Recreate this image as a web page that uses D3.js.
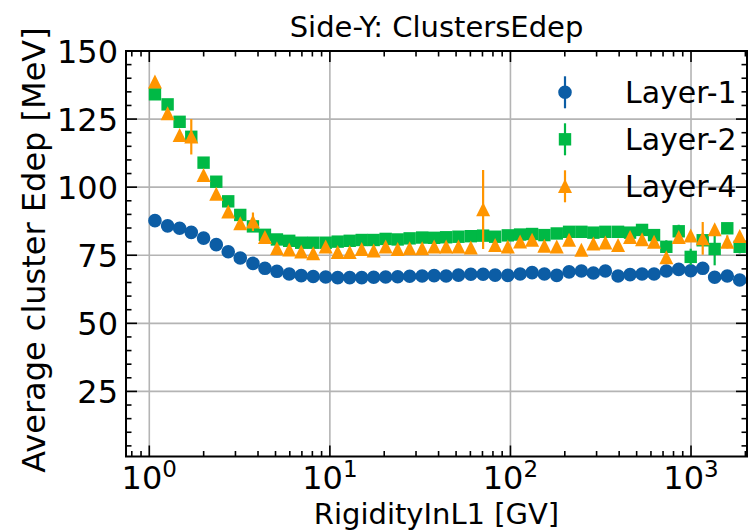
<!DOCTYPE html>
<html>
<head>
<meta charset="utf-8">
<script src="https://cdn.jsdelivr.net/npm/d3@7"></script>
<style>
  body { margin: 0; background: #fff; }
  svg text { font-family: "DejaVu Sans", sans-serif; fill: #000; }
</style>
</head>
<body>
<div id="chart"></div>
<script>
// Rigidity bin centres (GV)
const rigidity = [1.075, 1.263, 1.472, 1.708, 1.998, 2.349, 2.736, 3.189, 3.750, 4.369,
  5.091, 5.955, 6.940, 8.086, 9.482, 11.05, 12.88, 15.01, 17.48, 20.37,
  23.74, 27.66, 32.43, 37.79, 44.04, 51.52, 60.33, 70.58, 82.26, 96.69,
  113.1, 131.8, 154.2, 180.5, 211.2, 247.1, 287.9, 335.5, 394.4, 459.6,
  535.6, 624.2, 729.9, 855.0, 996.1, 1161, 1352, 1588, 1860];

const layer1 = [87.7, 85.8, 84.9, 83.4, 81.3, 78.9, 76.3, 74.0, 72.0, 70.2,
  69.1, 68.1, 67.5, 67.2, 67.0, 66.8, 66.8, 66.8, 66.9, 67.0,
  67.1, 67.3, 67.4, 67.5, 67.4, 67.7, 68.0, 68.0, 67.7, 67.6,
  68.1, 68.6, 68.1, 67.6, 68.9, 69.2, 68.5, 69.2, 67.4, 67.9,
  68.1, 68.1, 69.2, 69.8, 69.3, 70.2, 66.9, 67.4, 65.9];
const layer1Err = layer1.map(() => 0.2);

const layer2 = [134.1, 130.4, 124.0, 118.5, 109.0, 102.0, 94.8, 89.8, 85.6, 82.5,
  80.8, 80.3, 79.6, 79.6, 79.6, 80.0, 80.3, 80.6, 80.6, 81.0,
  80.8, 81.2, 81.5, 81.4, 81.6, 81.8, 82.0, 82.2, 81.8, 82.3,
  82.6, 82.8, 82.4, 83.0, 83.6, 83.6, 83.3, 83.6, 83.6, 83.3,
  84.3, 82.4, 78.1, 83.8, 74.4, 80.5, 77.3, 84.9, 78.1];
const layer2Err = [0.4, 0.4, 0.4, 0.4, 0.4, 0.3, 0.3, 0.3, 0.3, 0.3,
  0.3, 0.3, 0.3, 0.3, 0.3, 0.3, 0.3, 0.3, 0.3, 0.3,
  0.3, 0.3, 0.3, 0.3, 0.3, 0.3, 0.3, 0.3, 0.3, 0.3,
  0.3, 0.3, 0.3, 0.3, 0.3, 0.4, 0.4, 0.4, 0.5, 0.5,
  0.6, 0.8, 2.4, 2.4, 3.0, 1.5, 6.0, 2.0, 2.4];

const layer4 = [138.7, 127.1, 119.1, 118.5, 104.4, 97.5, 91.0, 86.7, 87.3, 81.6,
  77.5, 77.0, 76.3, 75.7, 78.1, 76.1, 76.1, 77.2, 76.7, 78.1,
  77.2, 77.5, 77.5, 78.1, 78.1, 78.1, 77.8, 91.8, 78.7, 78.1,
  80.0, 80.6, 78.4, 78.1, 80.6, 76.9, 79.2, 79.6, 78.7, 81.6,
  80.8, 79.9, 74.2, 81.6, 82.2, 81.2, 84.5, 79.9, 82.0];
const layer4Err = [0.5, 0.5, 0.5, 6.5, 0.5, 0.5, 0.5, 0.5, 3.4, 0.5,
  0.5, 0.5, 0.5, 0.5, 0.5, 0.5, 0.5, 0.5, 0.5, 0.5,
  0.5, 0.5, 0.5, 0.5, 0.5, 0.5, 0.5, 14.5, 0.5, 0.5,
  0.5, 0.5, 0.5, 0.5, 0.5, 0.5, 0.5, 0.6, 0.6, 0.7,
  0.8, 0.9, 1.0, 1.0, 1.2, 6.0, 1.5, 2.4, 1.5];

const seriesNames = ["Layer-1", "Layer-2", "Layer-4"];
const seriesColors = ["#0C5DA5", "#00B945", "#FF9500"];
const seriesShapes = ["circle", "square", "triangle"];
const yTicks = [25, 50, 75, 100, 125, 150];
const xTicks = [1, 10, 100, 1000];
const xTickExp = ["0", "1", "2", "3"];

const width = 749, height = 532;
const margin = { top: 51, right: 2, bottom: 75.5, left: 126 };

const svg = d3.select("#chart").append("svg")
  .attr("width", width)
  .attr("height", height);

const x = d3.scaleLog()
  .domain([0.743, 2042])
  .range([margin.left, width - margin.right]);

const y = d3.scaleLinear()
  .domain([1.1, 150])
  .range([height - margin.bottom, margin.top]);

const x0 = margin.left, x1 = width - margin.right;
const y0 = height - margin.bottom, y1 = margin.top;

// grid
const grid = svg.append("g").attr("stroke", "#b4b4b4").attr("stroke-width", 1.6);
xTicks.forEach(t => grid.append("line")
  .attr("x1", x(t)).attr("x2", x(t)).attr("y1", y0).attr("y2", y1));
yTicks.forEach(t => grid.append("line")
  .attr("x1", x0).attr("x2", x1).attr("y1", y(t)).attr("y2", y(t)));

// minor ticks lists
const xMinor = [];
[0.1, 1, 10, 100, 1000].forEach(d => {
  for (let k = 2; k <= 9; k++) {
    const v = k * d;
    if (v > x.domain()[0] && v < x.domain()[1] && !xTicks.includes(v)) xMinor.push(v);
  }
});
const yMinor = d3.range(5, 150, 5).filter(v => v % 25 !== 0);

const ticks = svg.append("g").attr("stroke", "#000").attr("stroke-width", 1.6);
const majLen = 11, minLen = 5.5;
xTicks.forEach(t => {
  ticks.append("line").attr("x1", x(t)).attr("x2", x(t)).attr("y1", y0).attr("y2", y0 - majLen);
  ticks.append("line").attr("x1", x(t)).attr("x2", x(t)).attr("y1", y1).attr("y2", y1 + majLen);
});
xMinor.forEach(t => {
  ticks.append("line").attr("x1", x(t)).attr("x2", x(t)).attr("y1", y0).attr("y2", y0 - minLen);
  ticks.append("line").attr("x1", x(t)).attr("x2", x(t)).attr("y1", y1).attr("y2", y1 + minLen);
});
yTicks.forEach(t => {
  ticks.append("line").attr("x1", x0).attr("x2", x0 + majLen).attr("y1", y(t)).attr("y2", y(t));
  ticks.append("line").attr("x1", x1).attr("x2", x1 - majLen).attr("y1", y(t)).attr("y2", y(t));
});
yMinor.forEach(t => {
  ticks.append("line").attr("x1", x0).attr("x2", x0 + minLen).attr("y1", y(t)).attr("y2", y(t));
  ticks.append("line").attr("x1", x1).attr("x2", x1 - minLen).attr("y1", y(t)).attr("y2", y(t));
});

// data
const data = [
  { vals: layer1, errs: layer1Err },
  { vals: layer2, errs: layer2Err },
  { vals: layer4, errs: layer4Err }
];

function markerPath(shape) {
  if (shape === "circle") return d3.symbol(d3.symbolCircle, Math.PI * 6.8 * 6.8)();
  if (shape === "square") return d3.symbol(d3.symbolSquare, 12.4 * 12.4)();
  // matplotlib style '^' : bbox centred
  const p = d3.path();
  p.moveTo(0, -7.2); p.lineTo(7, 6.8); p.lineTo(-7, 6.8); p.closePath();
  return p.toString();
}

const plot = svg.append("g");
data.forEach((s, si) => {
  const g = plot.append("g");
  g.selectAll("line")
    .data(s.vals)
    .join("line")
    .attr("x1", (d, i) => x(rigidity[i]))
    .attr("x2", (d, i) => x(rigidity[i]))
    .attr("y1", (d, i) => y(d - s.errs[i]))
    .attr("y2", (d, i) => y(d + s.errs[i]))
    .attr("stroke", seriesColors[si])
    .attr("stroke-width", 2.2);
  g.selectAll("path")
    .data(s.vals)
    .join("path")
    .attr("d", markerPath(seriesShapes[si]))
    .attr("transform", (d, i) => `translate(${x(rigidity[i])},${y(d)})`)
    .attr("fill", seriesColors[si]);
});

// spines
svg.append("rect")
  .attr("x", x0).attr("y", y1)
  .attr("width", x1 - x0).attr("height", y0 - y1)
  .attr("fill", "none").attr("stroke", "#000").attr("stroke-width", 2);

// tick labels
const fs = 29, tfs = 32;
yTicks.forEach(t => {
  svg.append("text")
    .attr("x", 118).attr("y", y(t) + 11.5)
    .attr("text-anchor", "end")
    .style("font-size", tfs + "px")
    .text(t);
});
xTicks.forEach((t, i) => {
  const lbl = svg.append("text")
    .attr("x", x(t)).attr("y", 489)
    .attr("text-anchor", "middle")
    .style("font-size", tfs + "px");
  lbl.append("tspan").text("10");
  lbl.append("tspan").attr("dy", -12).style("font-size", "23px").text(xTickExp[i]);
});

// axis labels and title
svg.append("text")
  .attr("x", (x0 + x1) / 2).attr("y", 524)
  .attr("text-anchor", "middle")
  .style("font-size", fs + "px")
  .text("RigidityInL1 [GV]");

svg.append("text")
  .attr("transform", `translate(45,250) rotate(-90)`)
  .attr("text-anchor", "middle")
  .style("font-size", "32px")
  .text("Average cluster Edep [MeV]");

svg.append("text")
  .attr("x", (x0 + x1) / 2).attr("y", 37)
  .attr("text-anchor", "middle")
  .style("font-size", fs + "px")
  .text("Side-Y: ClustersEdep");

// legend
const legend = svg.append("g");
seriesNames.forEach((name, i) => {
  const ly = 92.3 + i * 47;
  legend.append("line")
    .attr("x1", 565).attr("x2", 565)
    .attr("y1", ly - 16).attr("y2", ly + 16)
    .attr("stroke", seriesColors[i]).attr("stroke-width", 2.2);
  legend.append("path")
    .attr("d", markerPath(seriesShapes[i]))
    .attr("transform", `translate(565,${ly})`)
    .attr("fill", seriesColors[i]);
  legend.append("text")
    .attr("x", 625).attr("y", ly + 11)
    .style("font-size", "30px")
    .text(name);
});
</script>
</body>
</html>
